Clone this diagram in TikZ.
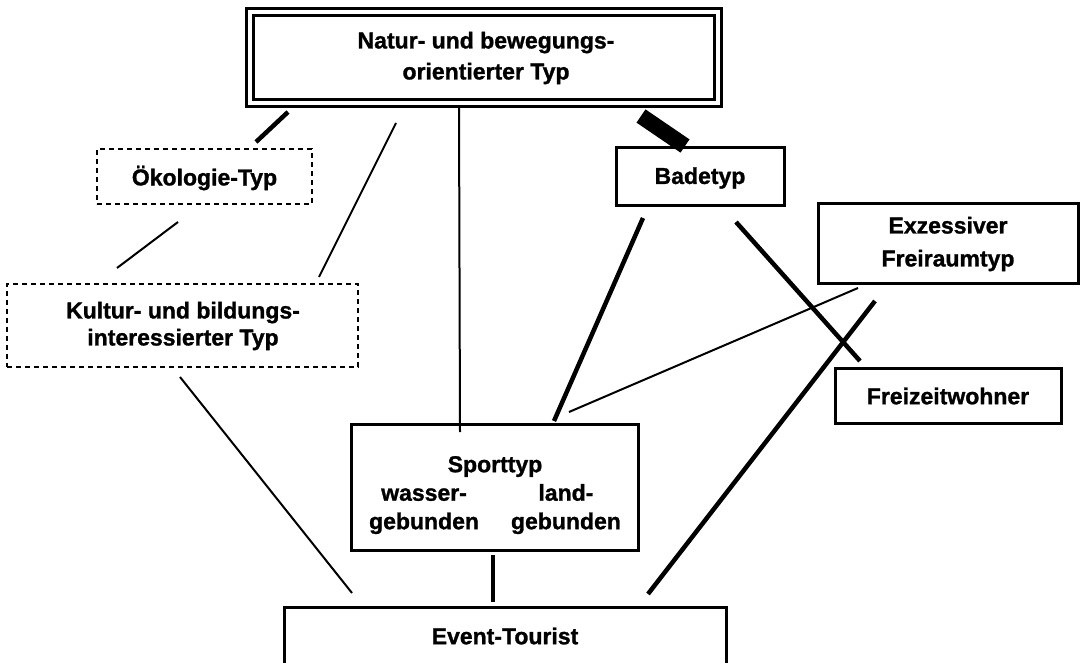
\documentclass[tikz,border=0pt]{standalone}
\usepackage{fontspec}
\setmainfont{Liberation Sans}[BoldFeatures={FakeBold=1.2}]
\begin{document}
\begin{tikzpicture}[x=1pt,y=-1pt,
  lbl/.style={font=\bfseries\fontsize{23}{30}\selectfont, align=center, inner sep=0pt},
  plainbox/.style={draw, line width=3pt, inner sep=0pt},
  dashbox/.style={draw, line width=2pt, dash pattern=on 5pt off 4pt, inner sep=0pt},
  dblbox/.style={draw, double=white, double distance=4pt, line width=3pt, inner sep=0pt},
  thinlink/.style={line width=2pt},
  thicklink/.style={line width=4.5pt},
  barlink/.style={line width=16pt},
]
\useasboundingbox (0,0) rectangle (1090,663);
\clip (0,0) rectangle (1090,663);
\fill[white] (0,0) rectangle (1090,663);

% boxes
\node[dblbox, minimum width=468, minimum height=91] (natur) at (483.5,58) {};
\node[lbl, font=\bfseries\fontsize{23}{31}\selectfont] (naturtxt) at (486,58) {Natur- und bewegungs-\\orientierter Typ};

\node[dashbox, minimum width=215, minimum height=55] (oeko) at (204.5,176.5) {};
\node[lbl] (oekotxt) at (204.5,178) {Ökologie-Typ};

\node[dashbox, minimum width=351, minimum height=83] (kultur) at (182.5,325.5) {};
\node[lbl, font=\bfseries\fontsize{23}{27}\selectfont] (kulturtxt) at (183,326) {Kultur- und bildungs-\\interessierter Typ};

\node[plainbox, minimum width=168, minimum height=58] (bade) at (700,177) {};
\node[lbl] (badetxt) at (700,178) {Badetyp};

\node[plainbox, minimum width=260, minimum height=79] (exz) at (948,243.5) {};
\node[lbl, font=\bfseries\fontsize{23}{33}\selectfont] (exztxt) at (948,244) {Exzessiver\\Freiraumtyp};

\node[plainbox, minimum width=226, minimum height=55] (frei) at (948,395.5) {};
\node[lbl] (freitxt) at (948,396) {Freizeitwohner};

\node[plainbox, minimum width=287, minimum height=126] (sport) at (494.5,487) {};
\node[lbl] (sporttxt) at (495,495) {%
  \setlength{\tabcolsep}{16pt}\renewcommand{\arraystretch}{0.95}%
  \begin{tabular}{cc}\multicolumn{2}{c}{Sporttyp}\\ wasser- & land-\\ gebunden & gebunden\end{tabular}};

\node[plainbox, minimum width=442, minimum height=80] (event) at (505,647) {};
\node[lbl] (eventtxt) at (505,636) {Event-Tourist};

% connector end points
\coordinate (n1) at (288,112);  \coordinate (o1) at (256,142);
\coordinate (n2) at (396,123);  \coordinate (k1) at (319,277);
\coordinate (o2) at (178,222);  \coordinate (k2) at (117,268);
\coordinate (n3) at (459,107);  \coordinate (s1) at (460,432);
\coordinate (n4) at (641,116);  \coordinate (b1) at (685,146);
\coordinate (b2) at (643,218);  \coordinate (s2) at (554,421);
\coordinate (b3) at (736,222);  \coordinate (f1) at (860,361);
\coordinate (e1) at (858,288);  \coordinate (s3) at (569,412);
\coordinate (e2) at (875,301);  \coordinate (t1) at (648,594);
\coordinate (k3) at (180,377);  \coordinate (t2) at (352,593);
\coordinate (s4) at (493,555);  \coordinate (t3) at (493,602);

% connectors
\draw[thicklink] (n1) -- (o1);
\draw[thinlink]  (n2) -- (k1);
\draw[thinlink]  (o2) -- (k2);
\draw[thinlink]  (n3) -- (s1);
\draw[barlink]   (n4) -- (b1);
\draw[thicklink] (b2) -- (s2);
\draw[thicklink] (b3) -- (f1);
\draw[thinlink]  (e1) -- (s3);
\draw[thicklink] (e2) -- (t1);
\draw[thinlink]  (k3) -- (t2);
\draw[thicklink] (s4) -- (t3);
\end{tikzpicture}
\end{document}
